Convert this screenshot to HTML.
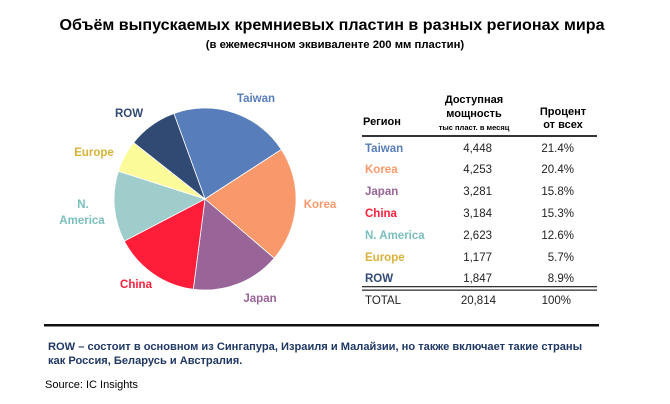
<!DOCTYPE html>
<html><head><meta charset="utf-8"><style>
html,body{margin:0;padding:0;background:#fff;}
svg{display:block;font-family:"Liberation Sans","DejaVu Sans",sans-serif;}
</style></head><body>
<svg width="670" height="404" viewBox="0 0 670 404" xmlns="http://www.w3.org/2000/svg">
<text x="332" y="30" text-anchor="middle" font-size="16.1" font-weight="bold" fill="#000">Объём выпускаемых кремниевых пластин в разных регионах мира</text>
<text x="335" y="48" text-anchor="middle" font-size="11.3" font-weight="bold" fill="#000">(в ежемесячном эквиваленте 200 мм пластин)</text>

<g stroke="#fff" stroke-width="0.8">
<path d="M205,199 L173.9,113.5 A91,91 0 0 1 281.4,149.5 Z" fill="#587DBB"/>
<path d="M205,199 L281.4,149.5 A91,91 0 0 1 274.2,258.2 Z" fill="#F9986A"/>
<path d="M205,199 L274.2,258.2 A91,91 0 0 1 193.3,289.3 Z" fill="#996498"/>
<path d="M205,199 L193.3,289.3 A91,91 0 0 1 124.3,241.1 Z" fill="#FE1E3A"/>
<path d="M205,199 L124.3,241.1 A91,91 0 0 1 118.4,171.2 Z" fill="#9ECDCC"/>
<path d="M205,199 L118.4,171.2 A91,91 0 0 1 133.6,142.6 Z" fill="#FBFB9A"/>
<path d="M205,199 L133.6,142.6 A91,91 0 0 1 173.9,113.5 Z" fill="#314A74"/>
</g>

<g font-size="11.5" font-weight="bold" text-anchor="middle">
<text x="256" y="102" fill="#587DBB">Taiwan</text>
<text x="129" y="117" fill="#314A74">ROW</text>
<text x="94" y="156" fill="#D8B23A">Europe</text>
<text x="83" y="208" fill="#7ABFBE">N.</text>
<text x="82" y="224" fill="#7ABFBE">America</text>
<text x="320" y="208" fill="#F9986A">Korea</text>
<text x="136" y="288" fill="#FE1E3A">China</text>
<text x="260" y="302" fill="#996498">Japan</text>
</g>

<g font-size="11" font-weight="bold" fill="#000">
<text x="363" y="125">Регион</text>
<text x="474" y="103" text-anchor="middle">Доступная</text>
<text x="474" y="117" text-anchor="middle">мощность</text>
<text x="563" y="115" text-anchor="middle">Процент</text>
<text x="563" y="128" text-anchor="middle">от всех</text>
</g>
<text x="474" y="130" text-anchor="middle" font-size="7.5" font-weight="bold" fill="#000">тыс пласт. в месяц</text>
<rect x="362" y="135" width="235" height="2" fill="#333"/>

<g font-size="11.5" font-weight="bold">
<text x="365" y="152" fill="#587DBB">Taiwan</text>
<text x="365" y="173" fill="#F9986A">Korea</text>
<text x="365" y="195" fill="#996498">Japan</text>
<text x="365" y="217" fill="#FE1E3A">China</text>
<text x="365" y="239" fill="#7ABFBE">N. America</text>
<text x="365" y="261" fill="#D8B23A">Europe</text>
<text x="365" y="282" fill="#314A74">ROW</text>
</g>
<g font-size="11.5" fill="#222" text-anchor="end">
<text x="492" y="152">4,448</text>
<text x="492" y="173">4,253</text>
<text x="492" y="195">3,281</text>
<text x="492" y="217">3,184</text>
<text x="492" y="239">2,623</text>
<text x="492" y="261">1,177</text>
<text x="492" y="282">1,847</text>
<text x="496" y="304">20,814</text>
<text x="574" y="152">21.4%</text>
<text x="574" y="173">20.4%</text>
<text x="574" y="195">15.8%</text>
<text x="574" y="217">15.3%</text>
<text x="574" y="239">12.6%</text>
<text x="574" y="261">5.7%</text>
<text x="574" y="282">8.9%</text>
<text x="571" y="304">100%</text>
</g>
<text x="365" y="304" font-size="11.5" fill="#222">TOTAL</text>
<rect x="362" y="286" width="235" height="1.3" fill="#333"/>
<rect x="362" y="289.5" width="235" height="1.3" fill="#333"/>

<rect x="44" y="324" width="555" height="2.5" fill="#111"/>
<g font-size="11.1" font-weight="bold" fill="#1F3864">
<text x="48" y="350">ROW – состоит в основном из Сингапура, Израиля и Малайзии, но также включает такие страны</text>
<text x="48" y="364">как Россия, Беларусь и Австралия.</text>
</g>
<text x="45" y="388" font-size="11" fill="#000">Source:  IC Insights</text>
</svg>
</body></html>
